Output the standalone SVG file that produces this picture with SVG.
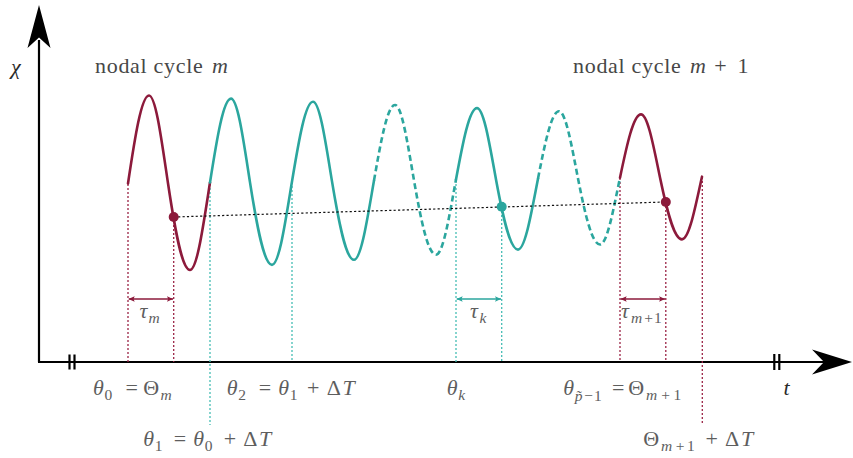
<svg xmlns="http://www.w3.org/2000/svg" width="853" height="458" viewBox="0 0 853 458">
<defs>
<style>
.ax{stroke:#000;stroke-width:2.2;fill:none}
.brk{stroke:#000;stroke-width:2.2}
.head{fill:#000;stroke:none}
.red{stroke:#8c1a3b;stroke-width:2.6;fill:none;stroke-linecap:round}
.teal{stroke:#2ba69e;stroke-width:2.6;fill:none;stroke-linecap:round}
.dash{stroke-dasharray:6 3.5;stroke-linecap:butt}
.vr{stroke:#9b2446;stroke-width:1.3;stroke-dasharray:2 2;fill:none}
.vt{stroke:#45bdb4;stroke-width:1.3;stroke-dasharray:2 2;fill:none}
.blk{stroke:#111;stroke-width:1.2;stroke-dasharray:2.2 2.2;fill:none}
.tr{stroke:#8c1a3b;stroke-width:1.4;fill:none}
.tt{stroke:#2ba69e;stroke-width:1.4;fill:none}
text{font-family:"Liberation Serif","Times New Roman",serif;font-size:22px;fill:#5e5e5e}
.i{font-style:italic}
.s{font-size:15.5px}
.op{text-anchor:middle}
.hd{fill:#474747}
.dk{fill:#2a2a2a}
</style>
<marker id="ar" viewBox="0 0 6 6" refX="6" refY="3" markerWidth="6" markerHeight="6" markerUnits="userSpaceOnUse" orient="auto-start-reverse"><path d="M0,0.3 L6,3 L0,5.7 L1.2,3 z" fill="#8c1a3b"/></marker>
<marker id="at" viewBox="0 0 6 6" refX="6" refY="3" markerWidth="6" markerHeight="6" markerUnits="userSpaceOnUse" orient="auto-start-reverse"><path d="M0,0.3 L6,3 L0,5.7 L1.2,3 z" fill="#2ba69e"/></marker>
</defs>

<g id="axes">
<line class="ax" x1="39" y1="362" x2="39" y2="40"/>
<line class="ax" x1="38" y1="362" x2="826" y2="362"/>
<polygon class="head" points="39,5 50.5,48 39,37.5 27.5,48"/>
<polygon class="head" points="852,362 812,349.5 824,362 812,374.5"/>
<line class="brk" x1="69.5" y1="354.5" x2="69.5" y2="369.5"/>
<line class="brk" x1="74.5" y1="354.5" x2="74.5" y2="369.5"/>
<line class="brk" x1="774.3" y1="354" x2="774.3" y2="370"/>
<line class="brk" x1="779.3" y1="354" x2="779.3" y2="370"/>
</g>

<g id="guides">
<line class="vr" x1="128" y1="184" x2="128" y2="362"/>
<line class="vr" x1="173.7" y1="217" x2="173.7" y2="362"/>
<line class="vt" x1="210" y1="184" x2="210" y2="425"/>
<line class="vt" x1="292" y1="182" x2="292" y2="362"/>
<line class="vt" x1="456" y1="180" x2="456" y2="362"/>
<line class="vt" x1="501.7" y1="207" x2="501.7" y2="362"/>
<line class="vr" x1="620" y1="178" x2="620" y2="362"/>
<line class="vr" x1="665.8" y1="202" x2="665.8" y2="362"/>
<line class="vr" x1="702.3" y1="177" x2="702.3" y2="425"/>
</g>

<g id="curve">
<path class="red" d="M128,183.5 C134.85,137.68 141.43,95.5 149,95.5 C155.85,95.5 161.81,141.89 168,183.3 C175.17,231.26 182.07,270 190,270 C197.21,270 203.48,224.07 210,182.53"/>
<path class="teal" d="M210,182.53 C216.85,138.89 223.43,98.65 231,98.65 C237.85,98.65 243.81,142.89 250,182.33 C257.17,228.01 264.07,264.9 272,264.9 C279.21,264.9 285.48,221.02 292,181.55 C298.85,140.09 305.43,101.8 313,101.8 C319.85,101.8 325.81,143.88 332,181.35 C339.17,224.75 346.07,259.8 354,259.8 C361.21,259.8 367.48,217.97 374,180.58"/>
<path class="teal dash" d="M374,180.58 C380.85,141.3 387.43,104.95 395,104.95 C401.85,104.95 407.81,144.88 414,180.38 C421.17,221.5 428.07,254.7 436,254.7 C443.21,254.7 449.48,214.92 456,179.6"/>
<path class="teal" d="M456,179.6 C462.85,142.49 469.43,108.1 477,108.1 C483.85,108.1 489.81,145.87 496,179.4 C503.17,218.24 510.07,249.6 518,249.6 C525.21,249.6 531.48,211.88 538,178.63"/>
<path class="teal dash" d="M538,178.63 C544.85,143.7 551.43,111.25 559,111.25 C565.85,111.25 571.81,146.87 578,178.43 C585.17,214.99 592.07,244.5 600,244.5 C607.21,244.5 613.48,208.82 620,177.65"/>
<path class="red" d="M620,177.65 C626.85,144.9 633.43,114.4 641,114.4 C647.85,114.4 653.81,147.86 660,177.45 C667.17,211.73 674.07,239.4 682,239.4 C689.21,239.4 695.48,205.78 702,176.68"/>
</g>

<g id="connectors">
<line class="blk" x1="173.7" y1="217" x2="665.8" y2="202"/>
<line class="tr" x1="128.7" y1="299" x2="173" y2="299" marker-start="url(#ar)" marker-end="url(#ar)"/>
<line class="tt" x1="456.7" y1="299" x2="501" y2="299" marker-start="url(#at)" marker-end="url(#at)"/>
<line class="tr" x1="620.7" y1="299" x2="665.1" y2="299" marker-start="url(#ar)" marker-end="url(#ar)"/>
</g>

<g id="points">
<circle cx="173.7" cy="217" r="5" fill="#8c1a3b"/>
<circle cx="501.7" cy="206.8" r="5" fill="#2ba69e"/>
<circle cx="665.8" cy="202" r="5" fill="#8c1a3b"/>
</g>

<g id="labels">
<text class="hd" x="95" y="73" style="letter-spacing:0.7px">nodal cycle</text>
<text class="hd i" x="212" y="73">m</text>
<text class="hd" x="573" y="73" style="letter-spacing:0.7px">nodal cycle</text>
<text class="hd i" x="690" y="73">m</text>
<text class="hd op" x="720.5" y="73">+</text>
<text class="hd" x="737.5" y="73">1</text>
<text class="dk i" x="11" y="74">χ</text>
<text class="dk i" x="783.5" y="395">t</text>

<text class="i" x="139.5" y="318">τ</text><text class="i s" x="148.5" y="322.5">m</text>
<text class="i" x="470" y="318">τ</text><text class="i s" x="479.5" y="322.5">k</text>
<text class="i" x="621" y="318">τ</text><text class="i s" x="631" y="322.5">m</text><text class="s op" x="648.5" y="322.5">+</text><text class="s" x="654" y="322.5">1</text>

<text class="i" x="93" y="395">θ</text><text class="s" x="104.5" y="399.5">0</text>
<text class="op" x="131.7" y="395">=</text>
<text x="143.3" y="395">Θ</text><text class="i s" x="160.5" y="399.5">m</text>

<text class="i" x="226.7" y="395">θ</text><text class="s" x="238.2" y="399.5">2</text>
<text class="op" x="265" y="395">=</text>
<text class="i" x="278.3" y="395">θ</text><text class="s" x="289.8" y="399.5">1</text>
<text class="op" x="313.3" y="395">+</text>
<text x="326.7" y="395">Δ</text><text class="i" x="342.5" y="395">T</text>

<text class="i" x="446.7" y="395">θ</text><text class="i s" x="458.2" y="399.5">k</text>

<text class="i" x="563.3" y="395">θ</text><text class="i s" x="574.8" y="401">p̃</text><text class="s op" x="588.5" y="401">−</text><text class="s" x="594" y="401">1</text>
<text class="op" x="618.3" y="395">=</text>
<text x="628.3" y="395">Θ</text><text class="i s" x="646" y="399.5">m</text><text class="s op" x="665.5" y="399.5">+</text><text class="s" x="673.5" y="399.5">1</text>

<text class="i" x="143.3" y="446">θ</text><text class="s" x="154.8" y="450.5">1</text>
<text class="op" x="180" y="446">=</text>
<text class="i" x="193.3" y="446">θ</text><text class="s" x="204.8" y="450.5">0</text>
<text class="op" x="230" y="446">+</text>
<text x="243.3" y="446">Δ</text><text class="i" x="259" y="446">T</text>

<text x="643.3" y="446">Θ</text><text class="i s" x="661" y="450.5">m</text><text class="s op" x="680" y="450.5">+</text><text class="s" x="687" y="450.5">1</text>
<text class="op" x="711.7" y="446">+</text>
<text x="725" y="446">Δ</text><text class="i" x="741" y="446">T</text>
</g>
</svg>
